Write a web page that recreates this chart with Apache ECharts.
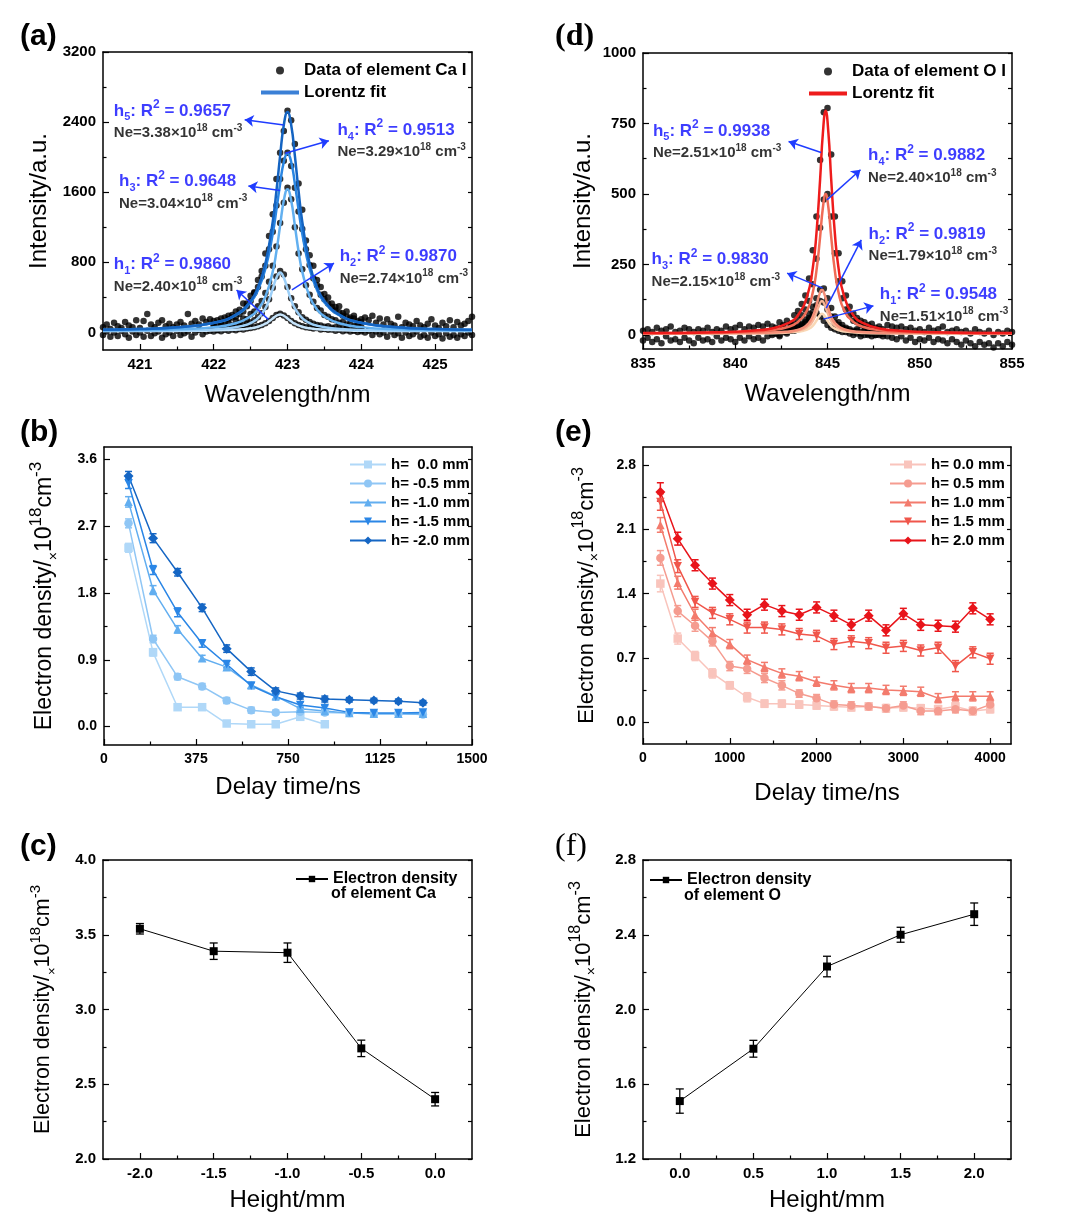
<!DOCTYPE html>
<html><head><meta charset="utf-8">
<script src="https://cdn.jsdelivr.net/npm/echarts@6/dist/echarts.min.js"></script>
<style>html,body{margin:0;padding:0;background:#fff}#c{width:1087px;height:1227px}</style>
</head><body><div id="c"></div><script>
// ===================== DATA =====================
// (a) Ca I spectra
const caPeakX = [422.00,422.05,422.10,422.15,422.20,422.25,422.30,422.35,422.40,422.45,422.50,422.55,422.60,422.65,422.70,422.75,422.80,422.85,422.90,422.95,423.00,423.05,423.10,423.15,423.20,423.25,423.30,423.35,423.40,423.45,423.50,423.55,423.60,423.65,423.70,423.75,423.80,423.85,423.90,423.95,424.00];
const caDataH5 = [130,95,160,120,190,170,240,210,330,300,420,460,600,700,900,1100,1350,1750,2050,2300,2530,2420,2150,1700,1400,1050,880,760,600,520,440,400,330,290,300,220,240,170,190,130,150];
const caDataH4 = [90,140,110,170,150,200,180,260,240,330,360,450,520,640,760,950,1150,1450,1750,1960,2050,1900,1650,1380,1180,950,770,620,540,430,380,330,290,250,230,190,180,150,160,110,120];
const caDataH3 = [70,40,90,60,110,80,130,110,160,150,210,240,300,360,450,580,760,980,1250,1480,1650,1520,1200,900,720,540,430,350,280,250,200,180,150,140,110,120,90,100,70,80,60];
const caDataH2 = [40,30,50,45,55,50,65,70,85,95,115,140,175,220,290,380,510,640,700,660,520,390,300,230,175,145,120,100,85,80,65,70,55,60,45,50,40,45,35,40,30];
const caDataH1 = [10,25,15,30,20,35,25,40,35,45,50,60,70,85,105,130,165,200,215,195,165,130,105,85,70,60,55,45,50,35,40,30,35,20,30,15,25,10,20,5,15];
const caBaseX = [420.50,420.55,420.60,420.65,420.70,420.75,420.80,420.85,420.90,420.95,421.00,421.05,421.10,421.15,421.20,421.25,421.30,421.35,421.40,421.45,421.50,421.55,421.60,421.65,421.70,421.75,421.80,421.85,421.90,421.95,
  424.05,424.10,424.15,424.20,424.25,424.30,424.35,424.40,424.45,424.50,424.55,424.60,424.65,424.70,424.75,424.80,424.85,424.90,424.95,425.00,425.05,425.10,425.15,425.20,425.25,425.30,425.35,425.40,425.45,425.50];
const caBaseUpper = [60,90,40,110,70,50,120,80,60,140,50,130,210,90,60,110,140,70,100,60,90,120,80,210,100,130,90,160,120,150,
  170,140,190,110,160,90,150,100,80,180,60,110,90,70,130,80,60,100,150,80,50,110,70,140,60,120,80,100,130,180];
const caBaseLower = [-30,10,-50,0,-40,20,-20,-60,10,-30,0,-50,20,-40,-10,10,-60,-20,0,-40,20,-30,-10,10,-50,0,30,-20,10,20,
  0,20,-30,10,-20,0,-50,10,-30,-10,-60,0,-40,-20,10,-50,-30,-60,0,-40,-20,-70,-10,-50,-30,-60,-20,-40,0,-30];
const caFitXa = [420.5,421.0,421.5,422.0,422.3,422.5,422.6,422.7,422.8,422.85,422.9,422.95,423.0,423.05,423.1,423.15,423.2,423.3,423.4,423.5,423.7,424.0,424.5,425.0,425.5];
const caFitXb = [420.5,420.9,421.4,421.9,422.2,422.4,422.5,422.6,422.7,422.75,422.8,422.85,422.9,422.95,423.0,423.05,423.1,423.2,423.3,423.4,423.6,423.9,424.4,424.9,425.5];
const caFitH5 = [31,40,59,111,204,360,515,784,1265,1615,2015,2368,2515,2368,2015,1615,1265,784,515,360,204,111,59,40,31];
const caFitH4 = [31,39,58,109,197,344,486,725,1127,1401,1697,1945,2045,1945,1697,1401,1127,725,486,344,197,109,58,39,31];
const caFitH3 = [22,27,36,61,105,183,263,409,694,926,1219,1505,1635,1505,1219,926,694,409,263,183,105,61,36,27,22];
const caFitH2 = [18,19,23,32,48,77,107,163,276,371,497,625,685,625,497,371,276,163,107,77,48,32,23,19,18];
const caFitH1 = [16,17,18,21,27,37,47,65,100,127,160,191,205,191,160,127,100,65,47,37,27,21,18,17,16];

// (d) O I spectra
const oPeakX = [842.0,842.2,842.4,842.6,842.8,843.0,843.2,843.4,843.6,843.8,844.0,844.2,844.4,844.6,844.8,845.0,845.2,845.4,845.6,845.8,846.0,846.2,846.4,846.6,846.8,847.0,847.2,847.4,847.6,847.8,848.0];
const oDataH5 = [30,20,45,35,50,40,70,85,110,140,200,300,420,620,790,805,640,420,290,190,140,100,75,60,50,45,35,40,25,30,20];
const oDataH4 = [15,25,10,30,20,35,40,55,70,90,120,180,270,380,480,500,420,290,190,130,90,70,50,45,35,30,20,25,15,20,10];
const oDataH3 = [10,5,15,10,20,15,25,30,40,55,75,100,130,160,165,130,95,65,45,35,25,20,15,20,10,15,5,10,0,10,5];
const oDataH2 = [5,10,0,15,10,20,20,25,35,45,60,80,105,120,115,90,65,45,35,25,20,15,10,15,5,10,0,5,10,0,5];
const oDataH1 = [0,5,-5,10,5,15,15,20,30,40,55,70,78,65,50,35,25,20,15,10,10,5,0,5,-5,0,5,-5,0,5,-5];
const oBaseX = [835,835.25,835.5,835.75,836,836.25,836.5,836.75,837,837.25,837.5,837.75,838,838.25,838.5,838.75,839,839.25,839.5,839.75,840,840.25,840.5,840.75,841,841.25,841.5,841.75,
  848.25,848.5,848.75,849,849.25,849.5,849.75,850,850.25,850.5,850.75,851,851.25,851.5,851.75,852,852.25,852.5,852.75,853,853.25,853.5,853.75,854,854.25,854.5,854.75,855];
const oBaseUpper = [15,20,10,25,15,20,30,10,15,25,20,10,20,15,25,10,20,15,30,20,25,35,20,30,25,35,30,40,
  35,30,25,30,20,25,15,20,10,25,15,20,30,10,15,20,10,15,5,20,10,5,15,0,10,5,15,10];
const oBaseLower = [-20,-10,-25,-15,-30,-5,-20,-15,-25,-10,-20,-30,-10,-20,-15,-25,-5,-20,-10,-15,-25,-10,-20,-5,-15,-10,-20,-5,
  -5,-10,-15,-5,-20,-10,-25,-15,-20,-10,-25,-15,-20,-30,-15,-25,-35,-20,-30,-40,-25,-35,-30,-45,-30,-40,-25,-35];
const oFitXa = [835,836.9,838.9,840.9,841.9,842.9,843.4,843.9,844.2,844.4,844.6,844.75,844.9,845.05,845.2,845.4,845.6,845.9,846.4,846.9,847.9,848.9,850.9,852.9,855];
const oFitXb = [835,836.7,838.7,840.7,841.7,842.7,843.2,843.7,844.0,844.2,844.4,844.55,844.7,844.85,845.0,845.2,845.4,845.7,846.2,846.7,847.7,848.7,850.7,852.7,855];
const oFitH5 = [7,7,9,15,22,43,70,138,236,359,552,716,795,716,552,359,236,138,70,43,22,15,9,7,7];
const oFitH4 = [6,7,8,11,16,29,46,88,150,227,348,451,500,451,348,227,150,88,46,29,16,11,8,7,6];
const oFitH3 = [5,5,6,7,8,11,15,26,43,65,104,141,160,141,104,65,43,26,15,11,8,7,6,5,5];
const oFitH2 = [5,5,6,6,7,9,13,21,33,50,79,106,120,106,79,50,33,21,13,9,7,6,6,5,5];
const oFitH1 = [5,5,5,6,6,8,10,15,22,32,50,66,75,66,50,32,22,15,10,8,6,6,5,5,5];

// (b) Ca electron density vs delay
const caDelay = [100,200,300,400,500,600,700,800,900,1000,1100,1200,1300];
const caNe_h00 = [2.41,1.00,0.26,0.26,0.04,0.03,0.03,0.13,0.03];
const caNe_h05 = [2.74,1.18,0.67,0.54,0.35,0.22,0.19,0.20,0.19,0.18,0.17,0.17,0.16];
const caNe_h10 = [3.03,1.84,1.31,0.92,0.80,0.56,0.41,0.24,0.21,0.18,0.17,0.17,0.17];
const caNe_h15 = [3.28,2.11,1.54,1.12,0.84,0.55,0.40,0.29,0.25,0.19,0.18,0.18,0.19];
const caNe_h20 = [3.38,2.54,2.08,1.60,1.05,0.74,0.48,0.41,0.37,0.36,0.35,0.34,0.32];
const caErr_h00 = [0.06,0.05,0.04,0.04,0.03,0.03,0.03,0.03,0.03];
const caErr_h05 = [0.06,0.05,0.04,0.04,0.04,0.04,0.03,0.03,0.03,0.03,0.03,0.03,0.03];
const caErr_h10 = [0.07,0.06,0.05,0.04,0.04,0.04,0.04,0.03,0.03,0.03,0.03,0.03,0.03];
const caErr_h15 = [0.07,0.06,0.06,0.05,0.05,0.04,0.04,0.04,0.03,0.03,0.03,0.03,0.03];
const caErr_h20 = [0.06,0.06,0.05,0.05,0.05,0.05,0.04,0.04,0.04,0.03,0.03,0.03,0.03];
const caNames = ['h=  0.0 mm','h= -0.5 mm','h= -1.0 mm','h= -1.5 mm','h= -2.0 mm'];

// (e) O electron density vs delay
const oDelay = [200,400,600,800,1000,1200,1400,1600,1800,2000,2200,2400,2600,2800,3000,3200,3400,3600,3800,4000];
const oNe_h00 = [1.51,0.91,0.72,0.53,0.40,0.27,0.20,0.20,0.19,0.18,0.17,0.16,0.17,0.15,0.16,0.15,0.14,0.17,0.12,0.14];
const oNe_h05 = [1.79,1.21,1.05,0.88,0.61,0.58,0.48,0.40,0.31,0.26,0.19,0.18,0.17,0.15,0.18,0.12,0.12,0.14,0.12,0.19];
const oNe_h10 = [2.15,1.52,1.17,0.97,0.85,0.68,0.60,0.53,0.50,0.44,0.40,0.37,0.37,0.35,0.34,0.33,0.26,0.28,0.28,0.28];
const oNe_h15 = [2.40,1.70,1.31,1.19,1.12,1.03,1.03,1.01,0.96,0.94,0.85,0.88,0.86,0.81,0.83,0.78,0.81,0.61,0.76,0.69];
const oNe_h20 = [2.51,2.00,1.71,1.51,1.33,1.17,1.28,1.21,1.17,1.25,1.16,1.06,1.16,1.00,1.18,1.06,1.05,1.04,1.24,1.12];
const oErr_h00 = [0.09,0.06,0.05,0.05,0.04,0.05,0.04,0.04,0.04,0.04,0.04,0.04,0.04,0.04,0.04,0.04,0.04,0.04,0.04,0.04];
const oErr_h05 = [0.08,0.06,0.06,0.05,0.05,0.05,0.05,0.05,0.04,0.04,0.04,0.04,0.04,0.04,0.04,0.04,0.04,0.04,0.04,0.04];
const oErr_h10 = [0.08,0.07,0.06,0.06,0.05,0.05,0.05,0.05,0.05,0.05,0.05,0.05,0.05,0.05,0.05,0.05,0.05,0.05,0.05,0.05];
const oErr_h15 = [0.09,0.07,0.06,0.06,0.06,0.06,0.06,0.06,0.06,0.06,0.06,0.06,0.06,0.06,0.06,0.06,0.06,0.06,0.06,0.06];
const oErr_h20 = [0.10,0.07,0.06,0.06,0.06,0.06,0.06,0.06,0.06,0.06,0.06,0.06,0.06,0.06,0.06,0.06,0.06,0.06,0.06,0.06];
const oNames = ['h= 0.0 mm','h= 0.5 mm','h= 1.0 mm','h= 1.5 mm','h= 2.0 mm'];

// (c) Ca vs height, (f) O vs height
const caHeight = [-2.0,-1.5,-1.0,-0.5,0.0];
const caNeHeight = [3.54,3.39,3.38,2.74,2.40];
const caNeHeightErr = [0.035,0.055,0.065,0.055,0.045];
const oHeight = [0.0,0.5,1.0,1.5,2.0];
const oNeHeight = [1.51,1.79,2.23,2.40,2.51];
const oNeHeightErr = [0.065,0.045,0.055,0.04,0.06];

// tick labels
const aXTicks=[421,422,423,424,425], aXMinor=[421.5,422.5,423.5,424.5];
const aYTicks=[0,800,1600,2400,3200], aYMinor=[400,1200,2000,2800];
const dXTicks=[835,840,845,850,855], dXMinor=[837.5,842.5,847.5,852.5];
const dYTicks=[0,250,500,750,1000], dYMinor=[125,375,625,875];
const bXTicks=[0,375,750,1125,1500], bXMinor=[187.5,562.5,937.5,1312.5];
const bYTicks=[0,0.9,1.8,2.7,3.6], bYMinor=[0.45,1.35,2.25,3.15];
const eXTicks=[0,1000,2000,3000,4000], eXMinor=[500,1500,2500,3500];
const eYTicks=[0,0.7,1.4,2.1,2.8], eYMinor=[0.35,1.05,1.75,2.45];
const cXTicks=[-2.0,-1.5,-1.0,-0.5,0.0], cXMinor=[-1.75,-1.25,-0.75,-0.25];
const cYTicks=[2.0,2.5,3.0,3.5,4.0], cYMinor=[2.25,2.75,3.25,3.75];
const fXTicks=[0.0,0.5,1.0,1.5,2.0], fXMinor=[0.25,0.75,1.25,1.75];
const fYTicks=[1.2,1.6,2.0,2.4,2.8], fYMinor=[1.4,1.8,2.2,2.6];

// ===================== CHART =====================
const FONT='"Liberation Sans", Arial, Helvetica, sans-serif';
const SERIF='"Liberation Serif", "Times New Roman", serif';
const zip=(xs,ys)=>ys.map((y,i)=>[xs[i],y]);
const xAxes=[], yAxes=[];
const f1=v=>v.toFixed(1), f0=v=>String(Math.round(v));
const neRich=(s)=>({
  n:{fontSize:s,fontFamily:FONT,color:'#000',lineHeight:Math.round(s*1.42),verticalAlign:'middle'},
  x:{fontSize:Math.round(s*0.62),fontFamily:FONT,color:'#000',verticalAlign:'bottom'},
  s:{fontSize:Math.round(s*0.72),fontFamily:FONT,color:'#000',verticalAlign:'top'}
});
const neName='{n|Electron density/}{x|×}{n|10}{s|18}{n|cm}{s|-3}';
function addAxes(gi,o){
  const ls={color:'#000',width:1.5}, tls={color:'#000',width:1.2};
  const lbl={color:'#000',fontWeight:'bold',fontSize:o.lblSize||14,fontFamily:FONT};
  const xi=xAxes.length, yi=yAxes.length;
  xAxes.push({gridIndex:gi,type:'value',min:o.xmin,max:o.xmax,position:'bottom',
    axisLine:{show:true,onZero:false,lineStyle:ls},
    axisTick:{show:true,inside:true,length:6,customValues:o.xTicks,lineStyle:tls},
    axisLabel:Object.assign({show:true,customValues:o.xTicks,formatter:o.xFmt,margin:7},lbl),
    splitLine:{show:false},
    name:o.xName,nameLocation:'middle',nameGap:o.xNameGap,
    nameTextStyle:{fontSize:24,fontFamily:FONT,color:'#000'}});
  xAxes.push({gridIndex:gi,type:'value',min:o.xmin,max:o.xmax,position:'bottom',
    axisLine:{show:false,onZero:false},axisTick:{show:true,inside:true,length:3.5,customValues:o.xMinor,lineStyle:tls},
    axisLabel:{show:false},splitLine:{show:false}});
  xAxes.push({gridIndex:gi,type:'value',min:o.xmin,max:o.xmax,position:'top',
    axisLine:{show:true,onZero:false,lineStyle:ls},axisTick:{show:false},axisLabel:{show:false},splitLine:{show:false}});
  yAxes.push({gridIndex:gi,type:'value',min:o.ymin,max:o.ymax,position:'left',
    axisLine:{show:true,onZero:false,lineStyle:ls},
    axisTick:{show:true,inside:true,length:6,customValues:o.yTicks,lineStyle:tls},
    axisLabel:Object.assign({show:true,customValues:o.yTicks,formatter:o.yFmt,margin:7},lbl),
    splitLine:{show:false},
    name:o.yName,nameLocation:'middle',nameGap:o.yNameGap,
    nameTextStyle:o.yRich?{fontFamily:FONT,color:'#000',rich:neRich(o.yRich)}:{fontSize:24,fontFamily:FONT,color:'#000'}});
  yAxes.push({gridIndex:gi,type:'value',min:o.ymin,max:o.ymax,position:'left',
    axisLine:{show:false,onZero:false},axisTick:{show:true,inside:true,length:3.5,customValues:o.yMinor,lineStyle:tls},
    axisLabel:{show:false},splitLine:{show:false}});
  yAxes.push({gridIndex:gi,type:'value',min:o.ymin,max:o.ymax,position:'right',
    axisLine:{show:true,onZero:false,lineStyle:ls},
    axisTick:{show:true,inside:true,length:4,customValues:o.yTicks.concat(o.yMinor),lineStyle:tls},
    axisLabel:{show:false},splitLine:{show:false}});
  return {x:xi,y:yi};
}
const grids=[
  {left:103,top:52,width:369,height:298},
  {left:643,top:53,width:369,height:296},
  {left:104,top:447,width:368,height:298},
  {left:643,top:447,width:368,height:297},
  {left:103,top:860,width:369,height:299},
  {left:643,top:860,width:368,height:299}
];
const A=addAxes(0,{xmin:420.5,xmax:425.5,xTicks:aXTicks,xMinor:aXMinor,xFmt:f0,ymin:-200,ymax:3200,yTicks:aYTicks,yMinor:aYMinor,yFmt:f0,
  xName:'Wavelength/nm',xNameGap:33,yName:'Intensity/a.u.',yNameGap:52,lblSize:15});
const D=addAxes(1,{xmin:835,xmax:855,xTicks:dXTicks,xMinor:dXMinor,xFmt:f0,ymin:-50,ymax:1000,yTicks:dYTicks,yMinor:dYMinor,yFmt:f0,
  xName:'Wavelength/nm',xNameGap:33,yName:'Intensity/a.u.',yNameGap:48,lblSize:15});
const B=addAxes(2,{xmin:0,xmax:1500,xTicks:bXTicks,xMinor:bXMinor,xFmt:f0,ymin:-0.25,ymax:3.77,yTicks:bYTicks,yMinor:bYMinor,yFmt:f1,
  xName:'Delay time/ns',xNameGap:30,yName:neName,yRich:23,yNameGap:43,lblSize:14});
const E=addAxes(3,{xmin:0,xmax:4240,xTicks:eXTicks,xMinor:eXMinor,xFmt:f0,ymin:-0.24,ymax:3.0,yTicks:eYTicks,yMinor:eYMinor,yFmt:f1,
  xName:'Delay time/ns',xNameGap:37,yName:neName,yRich:22,yNameGap:41,lblSize:14});
const C=addAxes(4,{xmin:-2.25,xmax:0.25,xTicks:cXTicks,xMinor:cXMinor,xFmt:f1,ymin:2.0,ymax:4.0,yTicks:cYTicks,yMinor:cYMinor,yFmt:f1,
  xName:'Height/mm',xNameGap:29,yName:neName,yRich:21.5,yNameGap:44,lblSize:15});
const F=addAxes(5,{xmin:-0.25,xmax:2.25,xTicks:fXTicks,xMinor:fXMinor,xFmt:f1,ymin:1.2,ymax:2.8,yTicks:fYTicks,yMinor:fYMinor,yFmt:f1,
  xName:'Height/mm',xNameGap:29,yName:neName,yRich:22,yNameGap:44,lblSize:15});

const series=[];
function dots(ax,name,xs,ys){
  series.push({type:'scatter',name,xAxisIndex:ax.x,yAxisIndex:ax.y,data:zip(xs,ys),symbol:'circle',symbolSize:6.5,
    itemStyle:{color:'#000'},z:2,silent:true});
}
function fit(ax,name,xs,ys,color){
  series.push({type:'line',name,xAxisIndex:ax.x,yAxisIndex:ax.y,data:zip(xs,ys),smooth:0.5,symbol:'none',
    lineStyle:{color,width:2.5},itemStyle:{color},z:3,silent:true});
}
function errSeries(ax,xs,ys,es,color,cap,width,z){
  series.push({type:'custom',xAxisIndex:ax.x,yAxisIndex:ax.y,silent:true,z:z||2,
    data:xs.slice(0,ys.length).map((x,i)=>[x,ys[i],es[i]]),encode:{x:0,y:1},
    renderItem:(p,api)=>{
      const x=api.value(0),y=api.value(1),e=api.value(2);
      const a=api.coord([x,y+e]), b=api.coord([x,y-e]);
      const st={stroke:color,lineWidth:width};
      return {type:'group',children:[
        {type:'line',shape:{x1:a[0],y1:a[1],x2:b[0],y2:b[1]},style:st},
        {type:'line',shape:{x1:a[0]-cap,y1:a[1],x2:a[0]+cap,y2:a[1]},style:st},
        {type:'line',shape:{x1:b[0]-cap,y1:b[1],x2:b[0]+cap,y2:b[1]},style:st}]};
    }});
}
const BLUE='#0c0cff';
function annot(ax,items,arrows){
  const rich={
    b:{fontSize:17,fontWeight:'bold',color:BLUE,fontFamily:FONT,lineHeight:24,verticalAlign:'middle'},
    bs:{fontSize:11,fontWeight:'bold',color:BLUE,fontFamily:FONT,verticalAlign:'bottom'},
    bp:{fontSize:12,fontWeight:'bold',color:BLUE,fontFamily:FONT,verticalAlign:'top'},
    k:{fontSize:15,fontWeight:'bold',color:'#000',fontFamily:FONT,lineHeight:20,verticalAlign:'middle'},
    kp:{fontSize:10,fontWeight:'bold',color:'#000',fontFamily:FONT,verticalAlign:'top'}
  };
  series.push({type:'scatter',name:'_annot',xAxisIndex:ax.x,yAxisIndex:ax.y,symbol:'circle',symbolSize:1,
    itemStyle:{color:'rgba(0,0,0,0)'},z:6,silent:true,
    data:items.map(it=>({value:it.pos,label:{show:true,position:'right',distance:0,
      formatter:'{b|h}{bs|'+it.h+'}{b|: R}{bp|2}{b| = '+it.r+'}\n{k|Ne='+it.ne+'×10}{kp|18}{k| cm}{kp|-3}',rich}})),
    markLine:{silent:true,symbol:['none','arrow'],symbolSize:9,animation:false,
      lineStyle:{color:'#1f3cff',width:1.5,type:'solid'},label:{show:false},
      data:arrows.map(a=>[{coord:a[0]},{coord:a[1]}])}
  });
}

// (a)
[caDataH1,caDataH2,caDataH3,caDataH4,caDataH5].forEach(d=>dots(A,'Data of element Ca I',caPeakX,d));
dots(A,'Data of element Ca I',caBaseX,caBaseUpper);
dots(A,'Data of element Ca I',caBaseX,caBaseLower);
fit(A,'Lorentz fit',caFitXb,caFitH1,'#c6e4fb');
fit(A,'Lorentz fit',caFitXb,caFitH2,'#9ccff8');
fit(A,'Lorentz fit',caFitXa,caFitH3,'#62b0f0');
fit(A,'Lorentz fit',caFitXa,caFitH4,'#2a86e2');
fit(A,'Lorentz fit',caFitXa,caFitH5,'#1464c2');
annot(A,[
  {pos:[420.64,2414],h:5,r:'0.9657',ne:'3.38'},
  {pos:[423.67,2194],h:4,r:'0.9513',ne:'3.29'},
  {pos:[420.71,1607],h:3,r:'0.9648',ne:'3.04'},
  {pos:[423.70,750],h:2,r:'0.9870',ne:'2.74'},
  {pos:[420.64,663],h:1,r:'0.9860',ne:'2.40'}
],[
  [[422.95,2366],[422.42,2428]],
  [[422.97,2045],[423.56,2187]],
  [[422.90,1621],[422.47,1671]],
  [[423.06,485],[423.63,791]],
  [[422.74,149],[422.31,485]]
]);

// (d)
[oDataH1,oDataH2,oDataH3,oDataH4,oDataH5].forEach(d=>dots(D,'Data of element O I',oPeakX,d));
dots(D,'Data of element O I',oBaseX,oBaseUpper);
dots(D,'Data of element O I',oBaseX,oBaseLower);
fit(D,'Lorentz fit',oFitXb,oFitH1,'#f9d8b6');
fit(D,'Lorentz fit',oFitXb,oFitH2,'#f7b597');
fit(D,'Lorentz fit',oFitXb,oFitH3,'#f48f78');
fit(D,'Lorentz fit',oFitXa,oFitH4,'#f06b56');
fit(D,'Lorentz fit',oFitXa,oFitH5,'#ee1c1c');
annot(D,[
  {pos:[835.51,688],h:5,r:'0.9938',ne:'2.51'},
  {pos:[847.17,600],h:4,r:'0.9882',ne:'2.40'},
  {pos:[835.44,231],h:3,r:'0.9830',ne:'2.15'},
  {pos:[847.20,322],h:2,r:'0.9819',ne:'1.79'},
  {pos:[847.81,107],h:1,r:'0.9548',ne:'1.51'}
],[
  [[844.65,647],[842.89,686]],
  [[844.97,479],[846.79,586]],
  [[844.74,166],[842.81,219]],
  [[844.93,95],[846.83,337]],
  [[844.78,56],[847.49,103]]
]);

// (b) & (e)
const symbols=['rect','circle','triangle','triangle','diamond'];
const rots=[0,0,0,180,0];
const blues=['#b0d8f8','#8fc6f5','#62aef0','#2a86e6','#1566c4'];
const reds=['#f9c4bc','#f59c90','#f37b6d','#f0564b','#e8141a'];
const caSets=[[caNe_h00,caErr_h00],[caNe_h05,caErr_h05],[caNe_h10,caErr_h10],[caNe_h15,caErr_h15],[caNe_h20,caErr_h20]];
const oSets=[[oNe_h00,oErr_h00],[oNe_h05,oErr_h05],[oNe_h10,oErr_h10],[oNe_h15,oErr_h15],[oNe_h20,oErr_h20]];
caSets.forEach((s,i)=>{
  errSeries(B,caDelay,s[0],s[1],blues[i],3.5,1.5,2);
  series.push({type:'line',name:caNames[i],xAxisIndex:B.x,yAxisIndex:B.y,data:zip(caDelay,s[0]),
    symbol:symbols[i],symbolRotate:rots[i],symbolSize:i===4?10:8.5,lineStyle:{color:blues[i],width:1.5},
    itemStyle:{color:blues[i]},z:3,silent:true});
});
oSets.forEach((s,i)=>{
  errSeries(E,oDelay,s[0],s[1],reds[i],3.5,1.5,2);
  series.push({type:'line',name:oNames[i],xAxisIndex:E.x,yAxisIndex:E.y,data:zip(oDelay,s[0]),
    symbol:symbols[i],symbolRotate:rots[i],symbolSize:i===4?10:8.5,lineStyle:{color:reds[i],width:1.5},
    itemStyle:{color:reds[i]},z:3,silent:true});
});

// (c) & (f)
errSeries(C,caHeight,caNeHeight,caNeHeightErr,'#000',4,1.3,2);
series.push({type:'line',name:'Electron density of element Ca',xAxisIndex:C.x,yAxisIndex:C.y,data:zip(caHeight,caNeHeight),
  symbol:'rect',symbolSize:8,lineStyle:{color:'#000',width:1},itemStyle:{color:'#000'},z:3,silent:true});
errSeries(F,oHeight,oNeHeight,oNeHeightErr,'#000',4,1.3,2);
series.push({type:'line',name:'Electron density of element O',xAxisIndex:F.x,yAxisIndex:F.y,data:zip(oHeight,oNeHeight),
  symbol:'rect',symbolSize:8,lineStyle:{color:'#000',width:1},itemStyle:{color:'#000'},z:3,silent:true});

const legTxt={fontWeight:'bold',fontFamily:FONT,color:'#000'};
const lineIcon='path://M0,0H40V4H0Z';
const legends=[
  {left:256,top:56,orient:'vertical',itemWidth:38,itemHeight:8,itemGap:3,selectedMode:false,
    textStyle:Object.assign({fontSize:17,lineHeight:19},legTxt),
    data:[{name:'Data of element Ca I',icon:'circle',itemStyle:{color:'#000'}},
          {name:'Lorentz fit',icon:lineIcon,itemStyle:{color:'#3b80d6'}}]},
  {left:804,top:57,orient:'vertical',itemWidth:38,itemHeight:8,itemGap:3,selectedMode:false,
    textStyle:Object.assign({fontSize:17,lineHeight:19},legTxt),
    data:[{name:'Data of element O I',icon:'circle',itemStyle:{color:'#000'}},
          {name:'Lorentz fit',icon:lineIcon,itemStyle:{color:'#ee1c1c'}}]},
  {left:344,top:451,orient:'vertical',itemWidth:36,itemHeight:10,itemGap:2,selectedMode:false,
    textStyle:Object.assign({fontSize:15,lineHeight:17},legTxt),data:caNames},
  {left:884,top:451,orient:'vertical',itemWidth:36,itemHeight:10,itemGap:2,selectedMode:false,
    textStyle:Object.assign({fontSize:15,lineHeight:17},legTxt),data:oNames},
  {left:290,top:865,orient:'vertical',itemWidth:32,itemHeight:8,selectedMode:false,
    textStyle:Object.assign({fontSize:16,lineHeight:18},legTxt),
    formatter:()=>'Electron density',data:['Electron density of element Ca']},
  {left:644,top:866,orient:'vertical',itemWidth:32,itemHeight:8,selectedMode:false,
    textStyle:Object.assign({fontSize:16,lineHeight:18},legTxt),
    formatter:()=>'Electron density',data:['Electron density of element O']}
];

const gtext=(t,l,tp,font)=>({type:'text',left:l,top:tp,style:{text:t,font,fill:'#000'}});
const graphic=[
  gtext('(a)',20,22,'bold 30px '+FONT),
  gtext('(b)',20,418,'bold 30px '+FONT),
  gtext('(c)',20,832,'bold 30px '+FONT),
  gtext('(d)',555,21,'bold 32px '+SERIF),
  gtext('(e)',555,418,'bold 30px '+FONT),
  gtext('(f)',555,831,'32px '+SERIF),
  gtext('of element Ca',331,886,'bold 16px '+FONT),
  gtext('of element O',684,888,'bold 16px '+FONT)
];

const chart=echarts.init(document.getElementById('c'),null,{renderer:'canvas'});
chart.setOption({animation:false,backgroundColor:'#fff',grid:grids,xAxis:xAxes,yAxis:yAxes,series,legend:legends,graphic});
</script></body></html>
